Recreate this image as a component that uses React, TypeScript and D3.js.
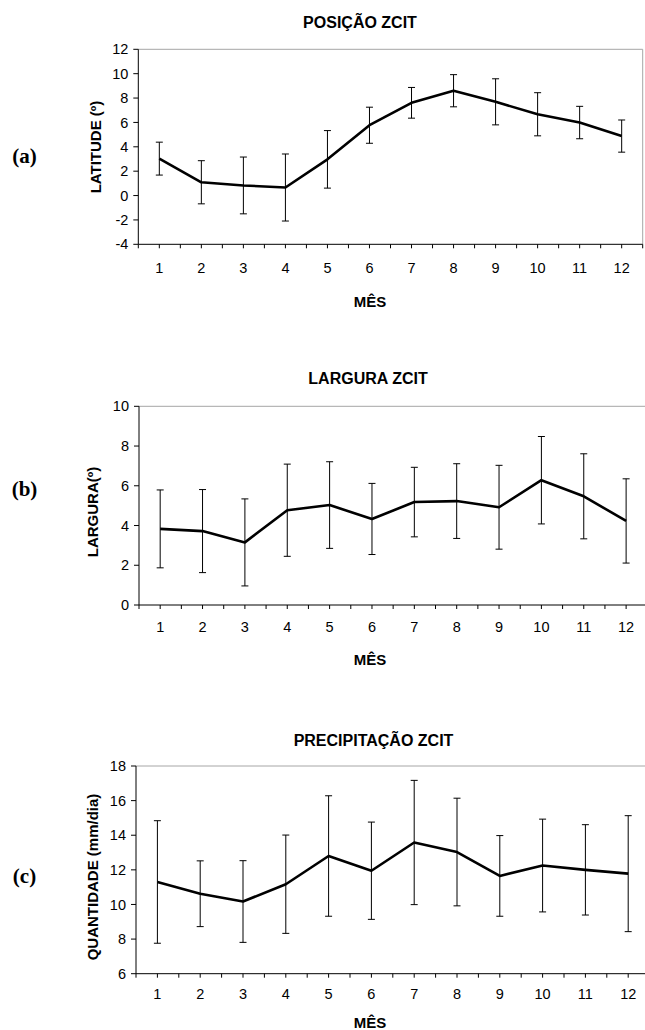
import React, { useEffect } from 'react';
import * as d3 from 'd3';

// months on the x axis
const months = [1, 2, 3, 4, 5, 6, 7, 8, 9, 10, 11, 12];

// (a) posição ZCIT - latitude mean and std dev
const posicaoMedia = [3.03, 1.09, 0.83, 0.66, 2.97, 5.77, 7.61, 8.6, 7.69, 6.67, 5.99, 4.88];
const posicaoDesvio = [1.35, 1.77, 2.33, 2.75, 2.36, 1.48, 1.26, 1.32, 1.89, 1.77, 1.33, 1.32];
const posicaoTicks = [-4, -2, 0, 2, 4, 6, 8, 10, 12];

// (b) largura ZCIT
const larguraMedia = [3.83, 3.72, 3.15, 4.77, 5.03, 4.33, 5.18, 5.23, 4.92, 6.28, 5.47, 4.23];
const larguraDesvio = [1.96, 2.09, 2.19, 2.32, 2.18, 1.79, 1.75, 1.88, 2.11, 2.2, 2.14, 2.12];
const larguraTicks = [0, 2, 4, 6, 8, 10];

// (c) precipitação ZCIT
const precipMedia = [11.3, 10.62, 10.17, 11.17, 12.8, 11.95, 13.58, 13.03, 11.65, 12.25, 12.0, 11.78];
const precipDesvio = [3.54, 1.9, 2.36, 2.84, 3.48, 2.81, 3.59, 3.11, 2.33, 2.68, 2.61, 3.35];
const precipTicks = [6, 8, 10, 12, 14, 16, 18];

const SANS = '"Liberation Sans", Arial, sans-serif';
const SERIF = '"Liberation Serif", "Times New Roman", serif';

type PanelCfg = {
  tag: string;
  title: string;
  yLabel: string;
  mean: number[];
  sd: number[];
  yTicks: number[];
  left: number;
  right: number;
  top: number;
  bottom: number;
  titleX: number;
  titleY: number;
  xLabY: number;
  mesY: number;
  yLabX: number;
  yLabY: number;
  tagY: number;
};

function Panel({ cfg }: { cfg: PanelCfg }) {
  const x = d3.scaleLinear().domain([0.5, 12.5]).range([cfg.left, cfg.right]);
  const y = d3
    .scaleLinear()
    .domain([cfg.yTicks[0], cfg.yTicks[cfg.yTicks.length - 1]])
    .range([cfg.bottom, cfg.top]);
  const line = d3
    .line<number>()
    .x((_, i) => x(months[i]))
    .y(d => y(d));
  const minor = d3.range(0.5, 12.51, 0.5);

  return (
    <g>
      {/* plot frame: gray top/right, black axes */}
      <line x1={cfg.left} x2={cfg.right} y1={cfg.top} y2={cfg.top} stroke="#a6a6a6" />
      <line x1={cfg.right} x2={cfg.right} y1={cfg.top} y2={cfg.bottom} stroke="#a6a6a6" />
      <line x1={cfg.left} x2={cfg.left} y1={cfg.top} y2={cfg.bottom} stroke="#000" />
      <line x1={cfg.left} x2={cfg.right} y1={cfg.bottom} y2={cfg.bottom} stroke="#000" />

      {cfg.yTicks.map(t => (
        <g key={'y' + t}>
          <line x1={cfg.left - 5} x2={cfg.left} y1={y(t)} y2={y(t)} stroke="#000" />
          <text x={cfg.left - 10} y={y(t)} dy="0.35em" textAnchor="end" fontSize={14.5} fontFamily={SANS}>
            {t}
          </text>
        </g>
      ))}

      {minor.map(t => (
        <line key={'m' + t} x1={x(t)} x2={x(t)} y1={cfg.bottom} y2={cfg.bottom + 4} stroke="#000" />
      ))}
      {months.map(m => (
        <text key={'x' + m} x={x(m)} y={cfg.xLabY} textAnchor="middle" fontSize={14.5} fontFamily={SANS}>
          {m}
        </text>
      ))}

      {/* error bars */}
      {cfg.mean.map((v, i) => {
        const cx = x(months[i]);
        const hi = y(v + cfg.sd[i]);
        const lo = y(v - cfg.sd[i]);
        return (
          <g key={'e' + i} stroke="#000" strokeWidth={1}>
            <line x1={cx} x2={cx} y1={hi} y2={lo} />
            <line x1={cx - 3.5} x2={cx + 3.5} y1={hi} y2={hi} />
            <line x1={cx - 3.5} x2={cx + 3.5} y1={lo} y2={lo} />
          </g>
        );
      })}

      <path d={line(cfg.mean) || ''} fill="none" stroke="#000" strokeWidth={2.6} strokeLinejoin="round" />

      <text x={cfg.titleX} y={cfg.titleY} textAnchor="middle" fontSize={16} fontWeight="bold" fontFamily={SANS}>
        {cfg.title}
      </text>
      <text x={370} y={cfg.mesY} textAnchor="middle" fontSize={15} fontWeight="bold" fontFamily={SANS}>
        MÊS
      </text>
      <text
        transform={`translate(${cfg.yLabX},${cfg.yLabY}) rotate(-90)`}
        textAnchor="middle"
        dy="0.35em"
        fontSize={15}
        fontWeight="bold"
        fontFamily={SANS}
      >
        {cfg.yLabel}
      </text>
      <text x={24.5} y={cfg.tagY} dy="0.3em" textAnchor="middle" fontSize={21} fontWeight="bold" fontFamily={SERIF}>
        {cfg.tag}
      </text>
    </g>
  );
}

const panels: PanelCfg[] = [
  {
    tag: '(a)', title: 'POSIÇÃO ZCIT', yLabel: 'LATITUDE (º)',
    mean: posicaoMedia, sd: posicaoDesvio, yTicks: posicaoTicks,
    left: 138.3, right: 642.7, top: 49.3, bottom: 244.3,
    titleX: 360, titleY: 28, xLabY: 273, mesY: 306.5, yLabX: 96, yLabY: 147, tagY: 157,
  },
  {
    tag: '(b)', title: 'LARGURA ZCIT', yLabel: 'LARGURA(º)',
    mean: larguraMedia, sd: larguraDesvio, yTicks: larguraTicks,
    left: 139, right: 647.3, top: 406.3, bottom: 605,
    titleX: 368, titleY: 383.5, xLabY: 632, mesY: 665, yLabX: 93, yLabY: 512, tagY: 490,
  },
  {
    tag: '(c)', title: 'PRECIPITAÇÃO ZCIT', yLabel: 'QUANTIDADE (mm/dia)',
    mean: precipMedia, sd: precipDesvio, yTicks: precipTicks,
    left: 136, right: 649.6, top: 766, bottom: 973.7,
    titleX: 373.5, titleY: 745.5, xLabY: 999, mesY: 1028, yLabX: 93, yLabY: 877, tagY: 877,
  },
];

export default function App() {
  useEffect(() => {
    document.body.style.margin = '0';
    document.body.style.overflow = 'hidden';
  }, []);

  return (
    <svg width={645} height={1030} style={{ display: 'block', background: '#fff' }}>
      {panels.map(p => (
        <Panel key={p.tag} cfg={p} />
      ))}
    </svg>
  );
}
